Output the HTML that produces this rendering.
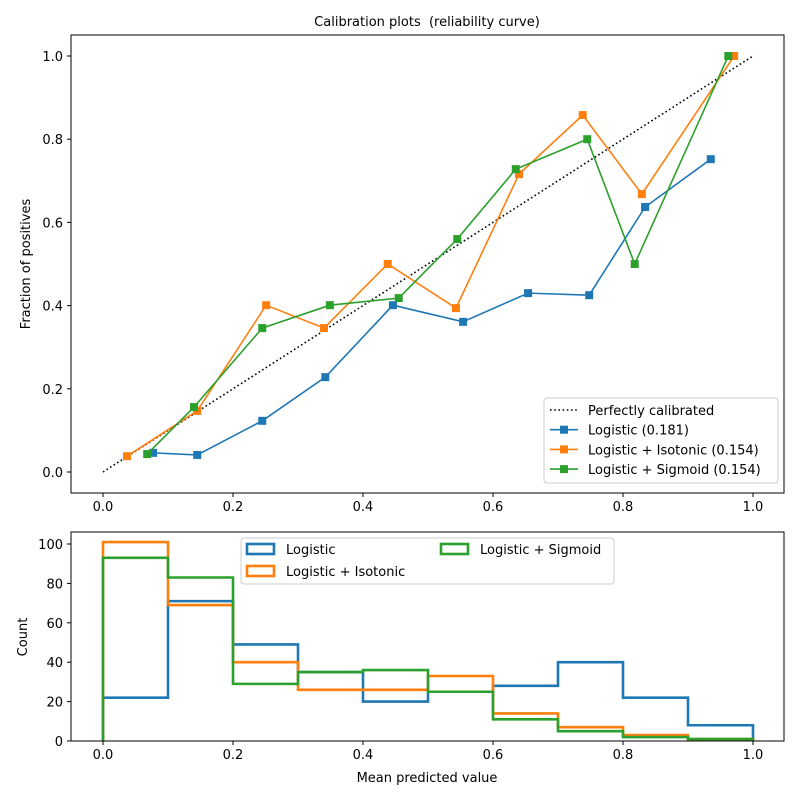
<!DOCTYPE html>
<html><head><meta charset="utf-8"><style>
body{margin:0;background:#fff}
svg{display:block;font-family:"DejaVu Sans","Liberation Sans",sans-serif}
</style></head><body>
<svg id="chart" width="800" height="800" viewBox="0 0 800 800"></svg>
<script>
const xCal = {
  logistic: [0.077,0.145,0.245,0.342,0.446,0.554,0.654,0.748,0.834,0.935],
  isotonic: [0.037,0.145,0.251,0.340,0.438,0.543,0.640,0.738,0.829,0.971],
  sigmoid:  [0.068,0.140,0.245,0.349,0.455,0.545,0.635,0.745,0.818,0.962]
};
const yLogistic = [0.046,0.041,0.123,0.228,0.401,0.361,0.430,0.425,0.637,0.752];
const yIsotonic = [0.038,0.147,0.401,0.346,0.500,0.394,0.716,0.858,0.668,1.0];
const ySigmoid  = [0.043,0.156,0.346,0.401,0.418,0.560,0.728,0.800,0.500,1.0];
const binEdges = [0,0.1,0.2,0.3,0.4,0.5,0.6,0.7,0.8,0.9,1.0];
const countLogistic = [22,71,49,35,20,25,28,40,22,8];
const countIsotonic = [101,69,40,26,26,33,14,7,3,1];
const countSigmoid  = [93,83,29,35,36,25,11,5,2,1];
const xTicks = [0,0.2,0.4,0.6,0.8,1.0];
const yTicksTop = [0,0.2,0.4,0.6,0.8,1.0];
const yTicksBot = [0,20,40,60,80,100];
const colors = {logistic:"#1f77b4",isotonic:"#ff7f0e",sigmoid:"#2ca02c"};

const NS="http://www.w3.org/2000/svg";
const svg=document.getElementById('chart');
function el(tag,attrs,parent){const e=document.createElementNS(NS,tag);for(const k in attrs)e.setAttribute(k,attrs[k]);(parent||svg).appendChild(e);return e;}
const X=v=>103+v*650;
const YT=v=>472-v*416;
const YB=v=>741-v*1.97;

const topAx=el('g',{});


const bot=el('g',{});



function ticksX(g,yb){xTicks.forEach(t=>{el('line',{x1:X(t),x2:X(t),y1:yb,y2:yb+4,stroke:'#000'},g);const tx=el('text',{x:X(t),y:yb+18,'text-anchor':'middle','font-size':13},g);tx.textContent=t.toFixed(1);});}

el('line',{x1:X(0),y1:YT(0),x2:X(1),y2:YT(1),stroke:'#000','stroke-width':1.6,'stroke-dasharray':'1.6 2.6'},topAx);
function series(xs,ys,c,name){
  const g=el('g',{},topAx);
  
  
  el('polyline',{points:xs.map((x,i)=>X(x)+','+YT(ys[i])).join(' '),fill:'none',stroke:c,'stroke-width':1.6},g);
  xs.forEach((x,i)=>{const r=el('rect',{x:X(x)-4,y:YT(ys[i])-4,width:8,height:8,fill:c},g);});
}
series(xCal.logistic,yLogistic,colors.logistic,'logistic-series');
series(xCal.isotonic,yIsotonic,colors.isotonic,'isotonic-series');
series(xCal.sigmoid,ySigmoid,colors.sigmoid,'sigmoid-series');
el('rect',{x:71,y:35,width:713,height:458,fill:'none',stroke:'#000','stroke-width':1},topAx);
ticksX(topAx,493);
yTicksTop.forEach(t=>{el('line',{x1:67,x2:71,y1:YT(t),y2:YT(t),stroke:'#000'},topAx);const tx=el('text',{x:63,y:YT(t)+5,'text-anchor':'end','font-size':13},topAx);tx.textContent=t.toFixed(1);});
let t=el('text',{x:427,y:26,'text-anchor':'middle','font-size':13,style:'white-space:pre'},topAx);t.textContent='Calibration plots  (reliability curve)';
t=el('text',{x:30,y:264,'text-anchor':'middle','font-size':13,transform:'rotate(-90 30 264)'},topAx);t.textContent='Fraction of positives';
const lg=el('g',{},topAx);
el('rect',{x:544,y:398,width:234,height:85,rx:3,fill:'#fff','fill-opacity':0.8,stroke:'#ccc'},lg);
const ents=[['Perfectly calibrated','#000',true],['Logistic (0.181)',colors.logistic],['Logistic + Isotonic (0.154)',colors.isotonic],['Logistic + Sigmoid (0.154)',colors.sigmoid]];
ents.forEach((e,i)=>{const y=410+i*19.7;const g=el('g',{},lg);
 if(e[2])el('line',{x1:550,x2:578,y1:y,y2:y,stroke:'#000','stroke-width':1.6,'stroke-dasharray':'1.6 2.6'},g);
 else{el('line',{x1:550,x2:578,y1:y,y2:y,stroke:e[1],'stroke-width':1.6},g);el('rect',{x:560,y:y-4,width:8,height:8,fill:e[1]},g);}
 const tx=el('text',{x:588,y:y+5,'font-size':13},g);tx.textContent=e[0];});

function hist(counts,c,name){
  let d='M'+X(binEdges[0])+','+YB(0);
  counts.forEach((v,i)=>{d+=' L'+X(binEdges[i])+','+YB(v)+' L'+X(binEdges[i+1])+','+YB(v);});
  d+=' L'+X(binEdges[binEdges.length-1])+','+YB(0);
  const p=el('path',{d:d,fill:'none',stroke:c,'stroke-width':2.6},bot);
  
}
hist(countLogistic,colors.logistic,'logistic-hist');
hist(countIsotonic,colors.isotonic,'isotonic-hist');
hist(countSigmoid,colors.sigmoid,'sigmoid-hist');
el('rect',{x:71,y:532,width:713,height:209,fill:'none',stroke:'#000','stroke-width':1},bot);
ticksX(bot,741);
yTicksBot.forEach(v=>{el('line',{x1:67,x2:71,y1:YB(v),y2:YB(v),stroke:'#000'},bot);const tx=el('text',{x:63,y:YB(v)+5,'text-anchor':'end','font-size':13},bot);tx.textContent=v;});
t=el('text',{x:427,y:782,'text-anchor':'middle','font-size':13},bot);t.textContent='Mean predicted value';
t=el('text',{x:27,y:637,'text-anchor':'middle','font-size':13,transform:'rotate(-90 27 637)'},bot);t.textContent='Count';
const lb=el('g',{},bot);
el('rect',{x:241,y:538,width:373,height:46,rx:3,fill:'#fff','fill-opacity':0.8,stroke:'#ccc'},lb);
[['Logistic',colors.logistic,247,549],['Logistic + Isotonic',colors.isotonic,247,571],['Logistic + Sigmoid',colors.sigmoid,441,549]].forEach(e=>{
 const g=el('g',{},lb);
 el('rect',{x:e[2],y:e[3]-5,width:27,height:10,fill:'none',stroke:e[1],'stroke-width':2.6},g);
 const tx=el('text',{x:e[2]+39,y:e[3]+5,'font-size':13},g);tx.textContent=e[0];});
</script>
</body></html>
